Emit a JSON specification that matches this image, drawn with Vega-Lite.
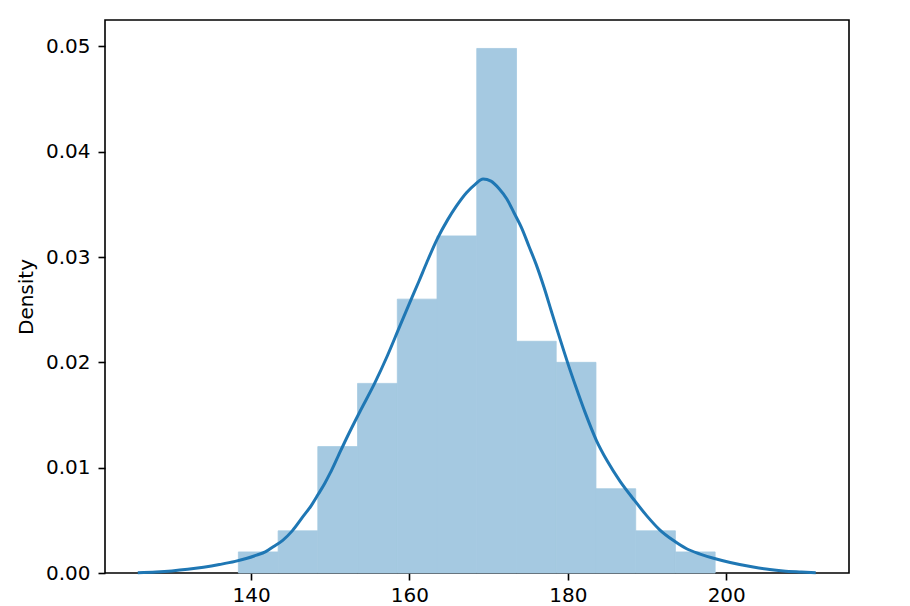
{
  "$schema": "https://vega.github.io/schema/vega-lite/v6.json",
  "autosize": {"type": "none"},
  "width": 744,
  "height": 553,
  "padding": {"left": 105, "top": 20, "right": 61, "bottom": 33},
  "background": "white",
  "config": {
    "view": {"stroke": "#000000", "strokeWidth": 1.6},
    "axis": {
      "domain": false,
      "grid": false,
      "labelFont": "DejaVu Sans",
      "labelFontSize": 20,
      "labelColor": "#000000",
      "tickColor": "#000000",
      "tickWidth": 1.6,
      "tickSize": 7,
      "titleFont": "DejaVu Sans",
      "titleFontSize": 20,
      "titleFontWeight": "normal",
      "titleColor": "#000000"
    }
  },
  "datasets": {
    "hist": [
      {"start": 138.4, "end": 143.42, "density": 0.002},
      {"start": 143.42, "end": 148.43, "density": 0.004},
      {"start": 148.43, "end": 153.45, "density": 0.012},
      {"start": 153.45, "end": 158.47, "density": 0.018},
      {"start": 158.47, "end": 163.48, "density": 0.026},
      {"start": 163.48, "end": 168.5, "density": 0.032},
      {"start": 168.5, "end": 173.52, "density": 0.0498},
      {"start": 173.52, "end": 178.53, "density": 0.022},
      {"start": 178.53, "end": 183.55, "density": 0.020},
      {"start": 183.55, "end": 188.57, "density": 0.008},
      {"start": 188.57, "end": 193.58, "density": 0.004},
      {"start": 193.58, "end": 198.6, "density": 0.002}
    ],
    "kde": [
      {"height": 125.7, "density": 0.00003},
      {"height": 128.0, "density": 0.0001},
      {"height": 130.0, "density": 0.0002},
      {"height": 132.0, "density": 0.00035},
      {"height": 134.0, "density": 0.00055},
      {"height": 136.0, "density": 0.0008},
      {"height": 138.0, "density": 0.0011},
      {"height": 139.5, "density": 0.0014},
      {"height": 140.7, "density": 0.0017},
      {"height": 141.8, "density": 0.002},
      {"height": 142.8, "density": 0.0025},
      {"height": 144.0, "density": 0.0031},
      {"height": 145.2, "density": 0.004},
      {"height": 146.5, "density": 0.0053},
      {"height": 147.6, "density": 0.0064},
      {"height": 148.5, "density": 0.0075},
      {"height": 149.3, "density": 0.0085},
      {"height": 150.0, "density": 0.0095},
      {"height": 151.0, "density": 0.0111},
      {"height": 152.0, "density": 0.0127},
      {"height": 153.8, "density": 0.0154},
      {"height": 155.6, "density": 0.018},
      {"height": 157.2, "density": 0.0206},
      {"height": 158.6, "density": 0.0231},
      {"height": 160.0, "density": 0.0256},
      {"height": 161.2, "density": 0.0277},
      {"height": 162.2, "density": 0.0295},
      {"height": 163.5, "density": 0.0317},
      {"height": 164.8, "density": 0.0335},
      {"height": 165.9, "density": 0.0348},
      {"height": 167.2, "density": 0.0361},
      {"height": 168.3, "density": 0.0369},
      {"height": 169.3, "density": 0.0374},
      {"height": 170.3, "density": 0.0372},
      {"height": 171.3, "density": 0.0365},
      {"height": 172.3, "density": 0.0355},
      {"height": 173.2, "density": 0.0342},
      {"height": 174.2, "density": 0.0327},
      {"height": 175.1, "density": 0.031},
      {"height": 176.0, "density": 0.0293},
      {"height": 177.0, "density": 0.0271},
      {"height": 177.9, "density": 0.0249},
      {"height": 178.6, "density": 0.0232},
      {"height": 179.4, "density": 0.0213},
      {"height": 180.0, "density": 0.0199},
      {"height": 181.0, "density": 0.0177},
      {"height": 182.2, "density": 0.0152},
      {"height": 183.6, "density": 0.0126},
      {"height": 185.0, "density": 0.0106},
      {"height": 186.6, "density": 0.0087},
      {"height": 188.3, "density": 0.007},
      {"height": 190.0, "density": 0.0054},
      {"height": 191.6, "density": 0.0041},
      {"height": 193.3, "density": 0.0031},
      {"height": 195.0, "density": 0.0023},
      {"height": 196.7, "density": 0.0018},
      {"height": 198.4, "density": 0.0014},
      {"height": 200.5, "density": 0.001},
      {"height": 203.4, "density": 0.00057},
      {"height": 205.5, "density": 0.00033},
      {"height": 207.2, "density": 0.0002},
      {"height": 209.5, "density": 0.0001},
      {"height": 211.3, "density": 0.00003}
    ]
  },
  "layer": [
    {
      "data": {"name": "hist"},
      "mark": {"type": "rect", "color": "#a5c9e1", "stroke": "#a5c9e1", "strokeWidth": 0.8},
      "encoding": {
        "x": {
          "field": "start", "type": "quantitative",
          "scale": {"domain": [121.56, 215.5], "nice": false, "zero": false},
          "axis": {"values": [140, 160, 180, 200], "title": null, "labelPadding": 5, "format": "d"}
        },
        "x2": {"field": "end"},
        "y": {
          "field": "density", "type": "quantitative",
          "scale": {"domain": [0, 0.0525], "nice": false},
          "axis": {"values": [0, 0.01, 0.02, 0.03, 0.04, 0.05], "format": ".2f", "title": "Density", "labelPadding": 8, "titlePadding": 9}
        },
        "y2": {"datum": 0}
      }
    },
    {
      "data": {"name": "kde"},
      "mark": {"type": "line", "color": "#1f77b4", "strokeWidth": 3, "interpolate": "monotone"},
      "encoding": {
        "x": {"field": "height", "type": "quantitative"},
        "y": {"field": "density", "type": "quantitative"}
      }
    }
  ]
}
